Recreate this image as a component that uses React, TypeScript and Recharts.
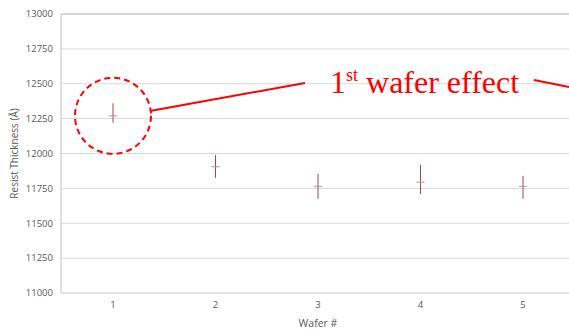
import React from "react";
import {
  ComposedChart,
  Scatter,
  ErrorBar,
  XAxis,
  YAxis,
  CartesianGrid,
  ReferenceDot,
  ReferenceLine,
} from "recharts";

const wafers = ["1", "2", "3", "4", "5"];
const means = [12270, 11905, 11765, 11795, 11765];
const highs = [12360, 11990, 11855, 11920, 11840];
const lows = [12220, 11825, 11675, 11710, 11675];
const yTicks = [11000, 11250, 11500, 11750, 12000, 12250, 12500, 12750, 13000];

const data = wafers.map((w, i) => ({
  wafer: w,
  mean: means[i],
  err: [means[i] - lows[i], highs[i] - means[i]],
}));

const tickStyle = { fontSize: 9.5, fill: "#595959", fontFamily: "'Open Sans', sans-serif" };

const MeanTick = (props: any) => {
  const { cx, cy } = props;
  return <line x1={cx - 4} x2={cx + 4} y1={cy} y2={cy} stroke="#a89898" strokeWidth={1} />;
};

const Circle = (props: any) => (
  <circle cx={props.cx} cy={props.cy} r={38} fill="none" stroke="#ff0000" strokeWidth={2} strokeDasharray="6 4" />
);

export default function App() {
  return (
    <div style={{ position: "absolute", left: 0, top: 0, width: 569, height: 329, background: "#fff", overflow: "hidden" }}>
      <ComposedChart width={575} height={329} data={data} margin={{ top: 14, right: 0, left: 0, bottom: 0 }}>
        <CartesianGrid vertical={false} stroke="#d9d9d9" />
        <XAxis
          dataKey="wafer"
          height={36}
          padding={{ left: 52, right: 52 }}
          tick={tickStyle}
          tickLine={false}
          axisLine={{ stroke: "#d9d9d9" }}
          label={{ value: "Wafer #", position: "insideBottom", offset: 2, style: { ...tickStyle, fontSize: 10.5 } }}
        />
        <YAxis
          width={61}
          domain={[11000, 13000]}
          ticks={yTicks}
          tick={tickStyle}
          tickLine={false}
          axisLine={{ stroke: "#bfbfbf" }}
          label={{
            value: "Resist Thickness (Å)",
            angle: -90,
            position: "insideLeft",
            offset: 14,
            style: { ...tickStyle, fontSize: 10, textAnchor: "middle" },
          }}
        />
        <ReferenceLine y={13000} stroke="#bfbfbf" />
        <Scatter dataKey="mean" shape={<MeanTick />} isAnimationActive={false}>
          <ErrorBar dataKey="err" direction="y" width={0} stroke="#a04a48" strokeWidth={1} />
        </Scatter>
        <ReferenceDot x="1" y={means[0]} shape={<Circle />} />
      </ComposedChart>
      <svg width={569} height={329} style={{ position: "absolute", left: 0, top: 0, pointerEvents: "none" }}>
        <line x1={150} y1={111} x2={305} y2={83} stroke="#ff0000" strokeWidth={2} />
        <line x1={534} y1={80} x2={569} y2={87} stroke="#ff0000" strokeWidth={2} />
        <text x={330} y={93} fill="#ff0000" fontFamily="'Liberation Serif', serif" fontSize={32}>
          1<tspan fontSize={18} dy={-12}>st</tspan>
          <tspan dy={12}> wafer effect</tspan>
        </text>
      </svg>
    </div>
  );
}
